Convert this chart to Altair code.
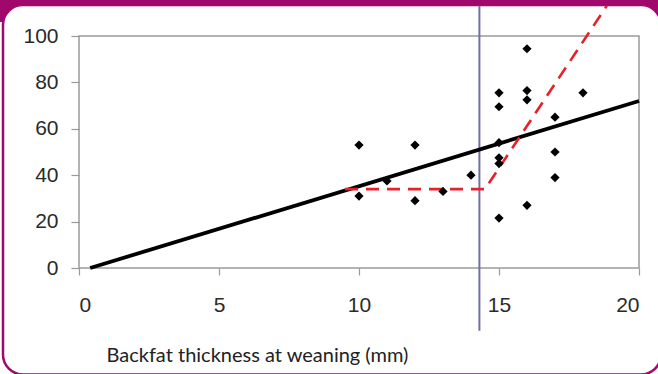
import altair as alt
import pandas as pd

# scatter data
pt_x = [10, 10, 11, 12, 12, 13, 14, 15, 15, 15, 15, 15, 15, 16, 16, 16, 16, 17, 17, 17, 18]
pt_y = [53, 31, 37.5, 53, 29, 33, 40, 75.5, 69.5, 54, 47.5, 45, 21.5, 94.5, 76.5, 72.5, 27, 65, 50, 39, 75.5]

# linear fit line
fit_x = [0.4, 20]
fit_y = [0, 72]

# broken-stick (dashed) line
brk_x = [9.5, 14.5, 18.85]
brk_y = [34, 34, 113]

# vertical threshold line
thr_x = [14.3, 14.3]
thr_y = [-27, 113]

x_ticks = [0, 5, 10, 15, 20]
y_ticks = [0, 20, 40, 60, 80, 100]

W, H = 560, 232
PURPLE = "#a0086c"

xs = alt.Scale(domain=[0, 20], nice=False)
ys = alt.Scale(domain=[0, 100], nice=False)

one = pd.DataFrame({"a": [0]})

band = alt.Chart(one).mark_rect(fill=PURPLE).encode(
    x=alt.value(-79), x2=alt.value(W + 19), y=alt.value(-36), y2=alt.value(-14)
)
card = alt.Chart(one).mark_rect(fill="white", stroke=PURPLE, strokeWidth=2.5, cornerRadius=20).encode(
    x=alt.value(-76), x2=alt.value(W + 22), y=alt.value(-31), y2=alt.value(338.5)
)
frame = alt.Chart(one).mark_rect(fill="white", fillOpacity=0, stroke="#9a9a9a", strokeWidth=1.5).encode(
    x=alt.value(0), x2=alt.value(W), y=alt.value(0), y2=alt.value(H)
)

thr = alt.Chart(pd.DataFrame({"x": thr_x, "y": thr_y})).mark_line(
    color="#6f6fa3", strokeWidth=2
).encode(
    x=alt.X("x:Q", scale=xs,
            axis=alt.Axis(values=x_ticks, title="Backfat thickness at weaning (mm)",
                          tickSize=7, tickColor="#999", tickWidth=1.2, domain=False,
                          labelFont="Liberation Sans", labelFontSize=21, labelColor="#2a2a2a",
                          labelPadding=19, grid=False, zindex=1,
                          titleFont="Lato", titleFontSize=20, titleFontWeight="normal",
                          titleColor="#222", titleAnchor="start", titleAlign="left",
                          titleX=27, titleY=93, titleBaseline="alphabetic")),
    y=alt.Y("y:Q", scale=ys,
            axis=alt.Axis(values=y_ticks, title=None, tickSize=8, tickColor="#999",
                          tickWidth=1.2, domain=False, labelFont="Liberation Sans",
                          labelFontSize=21, labelColor="#2a2a2a", labelPadding=13,
                          grid=False, zindex=1)),
)

fit = alt.Chart(pd.DataFrame({"x": fit_x, "y": fit_y})).mark_line(
    color="black", strokeWidth=3.8
).encode(x=alt.X("x:Q", scale=xs), y=alt.Y("y:Q", scale=ys))

brk = alt.Chart(pd.DataFrame({"x": brk_x, "y": brk_y})).mark_line(
    color="#e8202a", strokeWidth=2.6, strokeDash=[13, 8]
).encode(x=alt.X("x:Q", scale=xs), y=alt.Y("y:Q", scale=ys))

pts = alt.Chart(pd.DataFrame({"x": pt_x, "y": pt_y})).mark_point(
    shape="diamond", filled=True, color="black", size=85, opacity=1
).encode(x=alt.X("x:Q", scale=xs), y=alt.Y("y:Q", scale=ys))

chart = alt.layer(band, card, frame, thr, fit, brk, pts).properties(
    width=W, height=H,
    autosize=alt.AutoSizeParams(type="none"),
    padding={"left": 79, "top": 36, "right": 19, "bottom": 106},
    background="white",
).configure_view(stroke=None)

chart.save("out.html", embed_options={"renderer": "svg", "actions": False})
